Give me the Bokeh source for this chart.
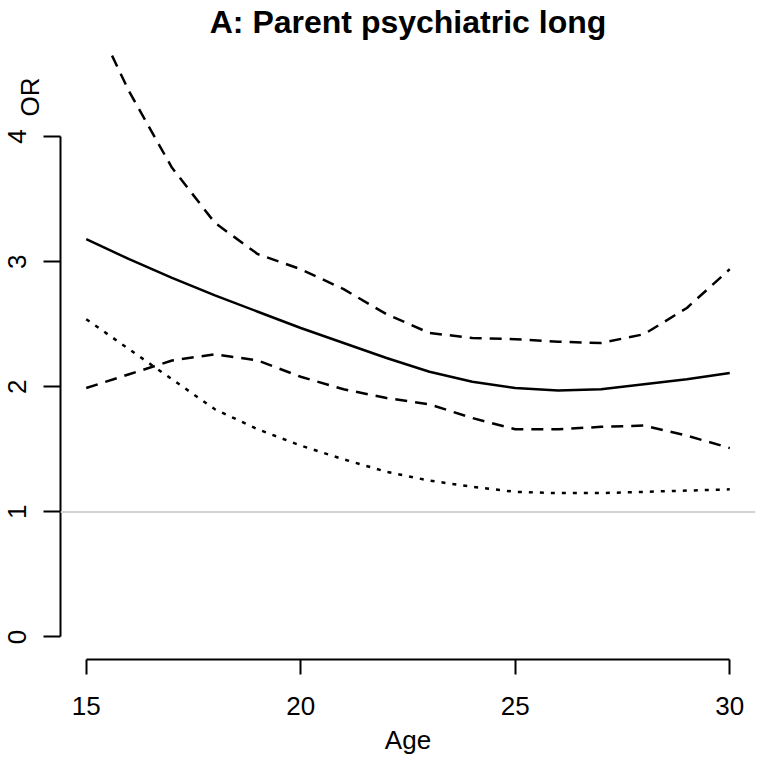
from bokeh.plotting import figure
from bokeh.models import Range1d, Span, FixedTicker, LinearAxis, Title
from bokeh.embed import file_html
from bokeh.resources import INLINE

# ---- data ----
title_text = "A: Parent psychiatric long"
x_label = "Age"
y_label = "OR"

age = [15, 16, 17, 18, 19, 20, 21, 22, 23, 24, 25, 26, 27, 28, 29, 30]
or_est = [3.18, 3.02, 2.87, 2.73, 2.60, 2.47, 2.35, 2.23, 2.12, 2.04, 1.99, 1.97, 1.98, 2.02, 2.06, 2.11]
ci_upper = [5.08, 4.36, 3.75, 3.31, 3.06, 2.94, 2.78, 2.58, 2.43, 2.39, 2.38, 2.36, 2.35, 2.42, 2.63, 2.94]
ci_lower = [1.99, 2.10, 2.21, 2.26, 2.21, 2.08, 1.98, 1.91, 1.86, 1.75, 1.66, 1.66, 1.68, 1.69, 1.61, 1.51]
or_dotted = [2.54, 2.30, 2.06, 1.82, 1.66, 1.53, 1.42, 1.32, 1.25, 1.20, 1.16, 1.15, 1.15, 1.16, 1.17, 1.18]

x_ticks = [15, 20, 25, 30]
y_ticks = [0, 1, 2, 3, 4]
ref_or = 1
x_lim = (14.4, 30.6)
y_lim = (-0.18, 4.68)

FONT = "Liberation Sans"
FS = "26px"
LW = 2.5

p = figure(width=762, height=763,
           x_range=Range1d(*x_lim), y_range=Range1d(*y_lim),
           output_backend="svg", toolbar_location=None,
           min_border_left=60, min_border_right=7,
           min_border_top=50, min_border_bottom=104)

p.xgrid.visible = False
p.ygrid.visible = False
p.outline_line_color = None
p.background_fill_color = "white"
p.border_fill_color = "white"

# reference line at OR = 1
p.add_layout(Span(location=ref_or, dimension="width",
                  line_color="#d3d3d3", line_width=2))

p.line(age, or_est, line_color="black", line_width=LW, line_join="round")
p.line(age, ci_upper, line_color="black", line_width=LW, line_dash="12 8", line_join="round")
p.line(age, ci_lower, line_color="black", line_width=LW, line_dash="12 8", line_join="round")
p.line(age, or_dotted, line_color="black", line_width=LW, line_dash="4 7", line_join="round")

# x axis
xa = p.xaxis[0]
xa.ticker = FixedTicker(ticks=x_ticks)
xa.bounds = (x_ticks[0], x_ticks[-1])
xa.axis_line_width = 2
xa.axis_line_color = "black"
xa.major_tick_line_width = 2
xa.major_tick_line_color = "black"
xa.major_tick_out = 15
xa.major_tick_in = 0
xa.minor_tick_line_color = None
xa.major_label_text_font = FONT
xa.major_label_text_font_size = FS
xa.major_label_text_color = "black"
xa.major_label_standoff = 22
xa.axis_label = x_label
xa.axis_label_standoff = 7
xa.axis_label_text_font = FONT
xa.axis_label_text_font_size = FS
xa.axis_label_text_font_style = "normal"
xa.axis_label_text_color = "black"

# y axis
ya = p.yaxis[0]
ya.ticker = FixedTicker(ticks=y_ticks)
ya.bounds = (y_ticks[0], y_ticks[-1])
ya.axis_line_width = 2
ya.axis_line_color = "black"
ya.major_tick_line_width = 2
ya.major_tick_line_color = "black"
ya.major_tick_out = 17
ya.major_tick_in = 0
ya.minor_tick_line_color = None
ya.major_label_orientation = "vertical"
ya.major_label_text_font = FONT
ya.major_label_text_font_size = FS
ya.major_label_text_color = "black"
ya.major_label_standoff = 17

# "OR" label near the top of the y axis (R mtext style)
p.add_layout(Title(text=y_label, align="right", vertical_align="bottom",
                   standoff=-78, offset=26,
                   text_font=FONT, text_font_size=FS,
                   text_font_style="normal", text_color="black"), "left")

# main title
title_axis = LinearAxis(bounds=(x_ticks[0], x_ticks[-1]))
title_axis.ticker = FixedTicker(ticks=[])
title_axis.axis_line_color = None
title_axis.major_tick_out = 0
title_axis.major_tick_in = 0
title_axis.minor_tick_out = 0
title_axis.minor_tick_in = 0
title_axis.major_label_standoff = 0
title_axis.axis_label = title_text
title_axis.axis_label_standoff = 12
title_axis.axis_label_text_font = FONT
title_axis.axis_label_text_font_size = "32px"
title_axis.axis_label_text_font_style = "bold"
title_axis.axis_label_text_color = "black"
p.add_layout(title_axis, "above")

open("out.html", "w").write(file_html(p, INLINE))
